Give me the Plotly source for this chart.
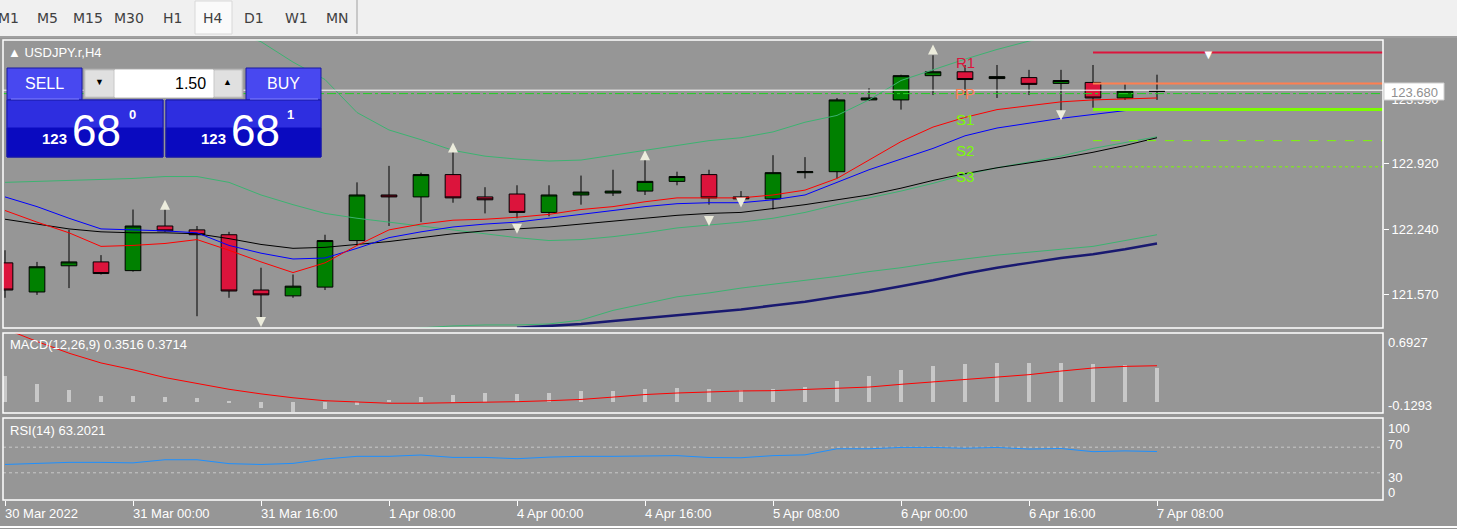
import plotly.graph_objects as go

W, H = 1457, 529

# ---- data ----
bar_idx = list(range(37))
opens = [121.90, 121.60, 121.87, 121.91, 121.82, 122.28, 122.24, 122.19, 121.62, 121.56,
         121.65, 122.13, 122.60, 122.58, 122.81, 122.58, 122.61, 122.42, 122.60, 122.62,
         122.64, 122.74, 122.81, 122.58, 122.56, 122.83, 122.84, 123.58, 123.58, 123.83,
         123.87, 123.80, 123.81, 123.75, 123.76, 123.60, 123.67]
highs = [122.03, 121.91, 122.24, 121.98, 122.45, 122.47, 122.28, 122.22, 121.85, 121.78,
         122.19, 122.73, 122.90, 122.83, 123.06, 122.68, 122.70, 122.70, 122.80, 122.86,
         122.98, 122.84, 122.86, 122.64, 123.01, 122.99, 123.60, 123.70, 123.84, 124.04,
         123.94, 123.94, 123.89, 123.89, 123.94, 123.74, 123.84]
lows = [121.54, 121.57, 121.64, 121.78, 121.81, 122.22, 121.35, 121.54, 121.28, 121.54,
        121.62, 122.08, 122.28, 122.32, 122.52, 122.41, 122.36, 122.38, 122.50, 122.59,
        122.60, 122.70, 122.50, 122.53, 122.45, 122.77, 122.77, 123.57, 123.48, 123.63,
        123.63, 123.60, 123.63, 123.46, 123.50, 123.58, 123.58]
closes = [121.62, 121.86, 121.91, 121.79, 122.28, 122.23, 122.19, 121.61, 121.57, 121.66,
          122.13, 122.60, 122.58, 122.81, 122.57, 122.55, 122.42, 122.60, 122.63, 122.64,
          122.74, 122.79, 122.57, 122.56, 122.83, 122.84, 123.58, 123.60, 123.83, 123.87,
          123.79, 123.82, 123.74, 123.78, 123.60, 123.67, 123.67]

ma_red = [122.44, 122.32, 122.21, 122.07, 122.08, 122.10, 122.14, 122.03, 121.91, 121.80,
          121.90, 122.08, 122.24, 122.30, 122.34, 122.35, 122.37, 122.40, 122.45, 122.48,
          122.53, 122.57, 122.57, 122.57, 122.60, 122.65, 122.77, 122.96, 123.15, 123.30,
          123.40, 123.48, 123.52, 123.56, 123.58, 123.59, 123.60]
ma_blue = [122.58, 122.48, 122.36, 122.25, 122.24, 122.23, 122.21, 122.08, 122.00, 121.94,
           121.95, 122.05, 122.16, 122.22, 122.27, 122.30, 122.32, 122.36, 122.40, 122.44,
           122.48, 122.51, 122.52, 122.52, 122.55, 122.60, 122.73, 122.86, 122.97, 123.08,
           123.21, 123.29, 123.34, 123.39, 123.43, 123.47, 123.49]
ma_black = [122.35, 122.30, 122.25, 122.22, 122.21, 122.21, 122.20, 122.15, 122.09, 122.05,
            122.06, 122.09, 122.12, 122.16, 122.20, 122.23, 122.25, 122.27, 122.30, 122.33,
            122.36, 122.39, 122.41, 122.42, 122.46, 122.50, 122.55, 122.60, 122.67, 122.75,
            122.82, 122.88, 122.93, 122.98, 123.04, 123.11, 123.19]
bb_mid = [122.73, 122.74, 122.75, 122.76, 122.77, 122.79, 122.79, 122.73, 122.60, 122.50,
          122.41, 122.36, 122.32, 122.28, 122.24, 122.20, 122.16, 122.13, 122.14, 122.17,
          122.21, 122.26, 122.29, 122.32, 122.36, 122.42, 122.50, 122.57, 122.64, 122.72,
          122.81, 122.88, 122.94, 123.00, 123.08, 123.14, 123.20]
bb_up = [124.60, 124.60, 124.58, 124.55, 124.50, 124.45, 124.38, 124.30, 124.18, 123.97,
         123.79, 123.45, 123.27, 123.17, 123.06, 123.00, 122.97, 122.95, 122.96, 123.01,
         123.06, 123.11, 123.16, 123.19, 123.25, 123.35, 123.42, 123.58, 123.78, 123.89,
         124.00, 124.10, 124.19, 124.28, 124.36, 124.43, 124.50]
bb_low = [121.05, 121.05, 121.00, 121.00, 121.00, 121.00, 121.05, 121.10, 121.10, 121.12,
          121.15, 121.18, 121.20, 121.23, 121.25, 121.26, 121.26, 121.27, 121.31, 121.41,
          121.48, 121.55, 121.59, 121.64, 121.68, 121.72, 121.76, 121.81, 121.85, 121.90,
          121.94, 121.98, 122.01, 122.04, 122.07, 122.13, 122.19]
ma_slow = [None] * 16 + [121.23, 121.25, 121.27, 121.30, 121.33, 121.36, 121.39, 121.42,
                         121.46, 121.50, 121.55, 121.60, 121.66, 121.72, 121.79, 121.85,
                         121.90, 121.95, 121.99, 122.04, 122.10]

frac_up_x = [5, 14, 20, 29]
frac_up_y = [122.55, 123.14, 123.06, 124.15]
frac_dn_x = [8, 16, 22, 23, 33]
frac_dn_y = [121.24, 122.20, 122.28, 122.47, 123.37]

pivot_names = ['R1', 'PP', 'S1', 'S2', 'S3']
pivot_vals = [124.07, 123.75, 123.48, 123.16, 122.89]
pivot_cols = ['#DC143C', '#FF7F50', '#7CFC00', '#7CFC00', '#7CFC00']
pivot_dash = ['solid', 'solid', 'solid', 'dash', 'dot']
pivot_w = [2, 2, 3, 1, 1]
bid, ask = 123.68, 123.645

macd_hist = [0.264, 0.188, 0.125, 0.066, 0.066, 0.056, 0.036, -0.007, -0.066, -0.099,
             -0.076, -0.026, 0.017, 0.056, 0.076, 0.096, 0.086, 0.096, 0.109, 0.116,
             0.135, 0.147, 0.136, 0.126, 0.136, 0.153, 0.211, 0.263, 0.324, 0.365,
             0.385, 0.402, 0.402, 0.402, 0.385, 0.375, 0.3516]
macd_sig = [0.75, 0.62, 0.50, 0.40, 0.33, 0.25, 0.19, 0.13, 0.083, 0.043,
            0.013, -0.003, -0.013, -0.013, -0.01, -0.003, 0.003, 0.013, 0.026, 0.05,
            0.076, 0.092, 0.106, 0.113, 0.116, 0.126, 0.136, 0.153, 0.181, 0.205,
            0.225, 0.249, 0.28, 0.317, 0.348, 0.365, 0.3714]
rsi = [43.0, 44.7, 46.3, 46.3, 45.5, 50.4, 50.4, 44.3, 43.0, 44.7,
       51.6, 55.7, 55.7, 57.8, 54.0, 54.0, 52.0, 54.5, 55.7, 55.7,
       56.5, 56.8, 53.9, 53.5, 56.8, 58.0, 67.5, 67.5, 69.6, 69.6,
       68.4, 69.6, 67.1, 67.9, 63.0, 64.2, 63.2]

price_ticks = [121.57, 122.24, 122.92, 123.59]
time_tick_idx = [0, 4, 8, 12, 16, 20, 24, 28, 32, 36]
time_labels = ['30 Mar 2022', '31 Mar 00:00', '31 Mar 16:00', '1 Apr 08:00', '4 Apr 00:00',
               '4 Apr 16:00', '5 Apr 08:00', '6 Apr 00:00', '6 Apr 16:00', '7 Apr 08:00']
tf_buttons = ['M1', 'M5', 'M15', 'M30', 'H1', 'H4', 'D1', 'W1', 'MN']
tf_x = [8, 47, 88, 129, 172, 213, 254, 296, 337]

# ---- layout geometry in pixels ----
BG = '#969696'
FONT = 'Liberation Sans'
px = lambda x: x / W
py = lambda y: 1 - y / H
X0, X1 = 3, 1383
XR = [(X0 - 5) / 32, (X1 - 5) / 32]
MAIN = (40, 328)
MACD = (333, 413)
RSI = (418, 500)
ymain = [124.61 - MAIN[1] / 97, 124.61 - MAIN[0] / 97]

fig = go.Figure()

fig.add_trace(go.Candlestick(
    x=bar_idx, open=opens, high=highs, low=lows, close=closes,
    increasing=dict(fillcolor='#008000', line=dict(color='black', width=1)),
    decreasing=dict(fillcolor='#DC143C', line=dict(color='black', width=1)),
    whiskerwidth=0, xaxis='x', yaxis='y', hoverinfo='skip'))

def line(y, color, width=1, xa='x', ya='y'):
    fig.add_trace(go.Scatter(x=bar_idx, y=y, mode='lines', xaxis=xa, yaxis=ya,
                             line=dict(color=color, width=width), hoverinfo='skip'))

line(bb_up, '#3CB371')
line(bb_mid, '#3CB371')
line(bb_low, '#3CB371')
line(ma_slow, '#191970', 2.5)
line(ma_black, 'black')
line(ma_blue, 'blue')
line(ma_red, 'red')

fig.add_trace(go.Scatter(x=frac_up_x, y=frac_up_y, mode='markers', xaxis='x', yaxis='y',
                         marker=dict(symbol='arrow-up', size=10, color='#ECECDC'), hoverinfo='skip'))
fig.add_trace(go.Scatter(x=frac_dn_x, y=frac_dn_y, mode='markers', xaxis='x', yaxis='y',
                         marker=dict(symbol='arrow-down', size=10, color='#ECECDC'), hoverinfo='skip'))

# pivot lines from bar 34 to the right edge
for v, c, d, w in zip(pivot_vals, pivot_cols, pivot_dash, pivot_w):
    fig.add_trace(go.Scatter(x=[34, XR[1]], y=[v, v], mode='lines', xaxis='x', yaxis='y',
                             line=dict(color=c, width=w, dash=d), hoverinfo='skip'))
for n, v, c in zip(pivot_names, pivot_vals, pivot_cols):
    fig.add_annotation(x=30, y=v, xref='x', yref='y', text=n, showarrow=False,
                       font=dict(color=c, size=15, family=FONT), yshift=-10)

fig.add_trace(go.Scatter(x=XR, y=[ask, ask], mode='lines', xaxis='x', yaxis='y',
                         line=dict(color='#22D022', width=1, dash='dashdot'), hoverinfo='skip'))
fig.add_trace(go.Scatter(x=XR, y=[bid, bid], mode='lines', xaxis='x', yaxis='y',
                         line=dict(color='white', width=1), hoverinfo='skip'))

# MACD
fig.add_trace(go.Bar(x=bar_idx, y=macd_hist, width=0.1, marker=dict(color='#C8C8C8', line_width=0),
                     xaxis='x2', yaxis='y2', hoverinfo='skip'))
line(macd_sig, 'red', 1, 'x2', 'y2')

# RSI
for lv in [70, 30]:
    fig.add_trace(go.Scatter(x=XR, y=[lv, lv], mode='lines', xaxis='x3', yaxis='y3',
                             line=dict(color='#C8C8C8', width=1, dash='dot'), hoverinfo='skip'))
line(rsi, '#1E90FF', 1, 'x3', 'y3')

xcommon = dict(range=XR, domain=[px(X0), px(X1)], showgrid=False, zeroline=False,
               showticklabels=False, fixedrange=True, rangeslider=dict(visible=False))
fig.update_layout(
    width=W, height=H, margin=dict(l=0, r=0, t=0, b=0),
    paper_bgcolor=BG, plot_bgcolor=BG, showlegend=False, boxgap=0.3, bargap=0,
    font=dict(family=FONT, color='white', size=12),
    xaxis=dict(**xcommon, anchor='y'),
    xaxis2=dict(**xcommon, anchor='y2', matches='x'),
    xaxis3=dict(**xcommon, anchor='y3', matches='x', ticks='outside', ticklen=5,
                tickcolor='white', tickvals=time_tick_idx),
    yaxis=dict(domain=[py(MAIN[1]), py(MAIN[0])], range=ymain, side='right', anchor='x',
               showgrid=False, zeroline=False, tickvals=price_ticks,
               ticktext=['%.3f' % t for t in price_ticks], ticks='outside', ticklen=5,
               tickcolor='white', tickfont=dict(size=13, color='white')),
    yaxis2=dict(domain=[py(MACD[1]), py(MACD[0])], range=[-0.113, 0.707], anchor='x2',
                side='right', showgrid=False, zeroline=False, showticklabels=False),
    yaxis3=dict(domain=[py(RSI[1]), py(RSI[0])], range=[-12.5, 115.6], anchor='x3',
                side='right', showgrid=False, zeroline=False, showticklabels=False),
)

shapes = []
# toolbar
shapes.append(dict(type='rect', xref='paper', yref='paper', x0=0, x1=1, y0=py(37), y1=1,
                   fillcolor='#F0F0F0', line_width=0, layer='above'))
shapes.append(dict(type='rect', xref='paper', yref='paper', x0=px(195), x1=px(232), y0=py(34), y1=py(1),
                   fillcolor='#FAFAFA', line=dict(color='#D8D8D8', width=1), layer='above'))
shapes.append(dict(type='line', xref='paper', yref='paper', x0=px(357), x1=px(357), y0=py(34), y1=1,
                   line=dict(color='#A0A0A0', width=1), layer='above'))
shapes.append(dict(type='line', xref='paper', yref='paper', x0=0, x1=1, y0=py(37), y1=py(37),
                   line=dict(color='#A0A0A0', width=2), layer='above'))
# panel frames
for (t, b) in [MAIN, MACD, RSI]:
    shapes.append(dict(type='rect', xref='paper', yref='paper', x0=px(X0), x1=px(X1), y0=py(b), y1=py(t),
                       line=dict(color='white', width=1.5), layer='above'))
shapes.append(dict(type='line', xref='paper', yref='paper', x0=0, x1=1, y0=py(527), y1=py(527),
                   line=dict(color='white', width=2)))
# trading panel
def box(x0, y0, x1, y1, fill, line_c=None):
    shapes.append(dict(type='rect', xref='paper', yref='paper', x0=px(x0), x1=px(x1), y0=py(y1), y1=py(y0),
                       fillcolor=fill, line=dict(color=line_c or fill, width=1), layer='above'))
for x0, x1 in [(7, 82), (246, 321)]:
    box(x0, 68, x1, 100, '#4848F0', '#1818A0')
for x0, x1 in [(7, 163), (166, 321)]:
    box(x0, 100, x1, 128, '#2E2EE0')
    box(x0, 128, x1, 157, '#0A0AC0')
    box(x0, 100, x1, 157, 'rgba(0,0,0,0)', '#1818A0')
box(84, 69, 243, 98, '#C8C8C8', '#A8A8A8')
box(86, 71, 113, 96, '#E0E0E0')
box(215, 71, 241, 96, '#E0E0E0')
box(115, 70, 213, 97, 'white')
shapes.append(dict(type='line', xref='paper', yref='paper', x0=px(11), x1=px(79), y0=py(99), y1=py(99),
                   line=dict(color='#8080FF', width=1), layer='above'))
shapes.append(dict(type='line', xref='paper', yref='paper', x0=px(250), x1=px(318), y0=py(99), y1=py(99),
                   line=dict(color='#8080FF', width=1), layer='above'))
# price tag for bid
box(1384, 83, 1444, 100, 'white', '#D0D0D0')
fig.update_layout(shapes=shapes)

def txt(x, y, s, size=12, color='white', anchor='left', family=FONT):
    fig.add_annotation(x=px(x), y=py(y), xref='paper', yref='paper', text=s, showarrow=False,
                       xanchor=anchor, yanchor='middle', font=dict(size=size, color=color, family=family))

for b, x in zip(tf_buttons, tf_x):
    txt(x, 18, b, 14, '#404040', 'center', 'DejaVu Sans')
txt(6, 52, '▲ USDJPY.r,H4', 13)
txt(44, 84, 'SELL', 16, 'white', 'center')
txt(283, 84, 'BUY', 16, 'white', 'center')
txt(208, 84, '1.50', 16, 'black', 'right')
txt(99, 82, '▼', 9, 'black', 'center')
txt(228, 82, '▲', 9, 'black', 'center')
for xs, sup in [(0, '0'), (158, '1')]:
    txt(55 + xs, 138, '<b>123</b>', 15, 'white', 'center')
    txt(97 + xs, 130, '68', 44, 'white', 'center')
    txt(132 + xs, 114, '<b>%s</b>' % sup, 13, 'white', 'center')
txt(1414, 92, '123.680', 13, '#909090', 'center')
fig.add_annotation(x=px(1217), y=py(45), xref='paper', yref='paper', text='▼', showarrow=False,
                   font=dict(size=13, color='white'))
txt(8, 344, 'MACD(12,26,9) 0.3516 0.3714', 13)
txt(8, 430, 'RSI(14) 63.2021', 13)
for s, y in [('0.6927', 342), ('-0.1293', 405), ('100', 428), ('70', 444), ('30', 477), ('0', 492)]:
    txt(1386, y, s, 13)
for i, s in zip(time_tick_idx, time_labels):
    fig.add_annotation(x=i, y=py(513), xref='x3', yref='paper', text=s, showarrow=False,
                       xanchor='left', yanchor='middle', xshift=-2, font=dict(size=13, color='white'))

fig.write_html('out.html', config={'displayModeBar': False},
               post_script="document.body.style.margin='0';")
